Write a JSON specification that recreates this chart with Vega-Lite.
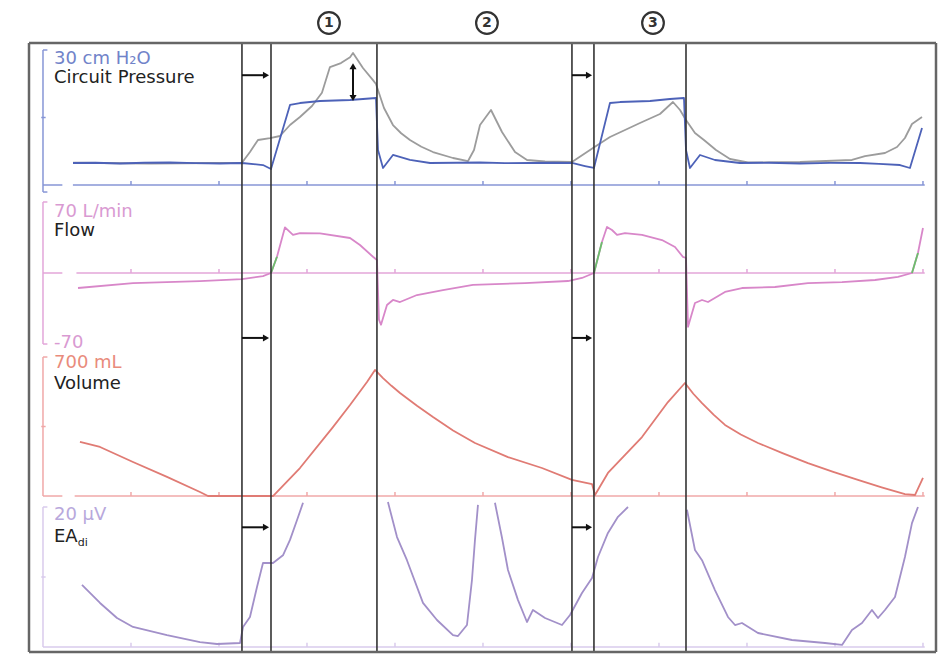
{
  "$schema": "https://vega.github.io/schema/vega-lite/v6.json",
  "padding": {"left": 27, "top": 5, "right": 16, "bottom": 18},
  "spacing": 0,
  "bounds": "flush",
  "config": {"view": {"stroke": null}, "line": {"strokeJoin": "round"}},
  "resolve": {"scale": {"x": "independent", "y": "independent", "color": "independent", "shape": "independent"}},
  "datasets": {
    "events": [{"t": 2.261}, {"t": 2.591}, {"t": 3.795}, {"t": 6.011}, {"t": 6.261}, {"t": 7.307}],
    "frame": [{"t": -0.159}, {"t": 10.148}],
    "secs": [{"t": 1}, {"t": 2}, {"t": 3}, {"t": 4}, {"t": 5}, {"t": 6}, {"t": 7}, {"t": 8}, {"t": 9}, {"t": 10}],
    "pc": [{"t":0.341,"v":4.89},{"t":0.6,"v":4.95},{"t":0.875,"v":4.78},{"t":1.15,"v":4.95},{"t":1.443,"v":5.0},{"t":1.73,"v":4.85},{"t":2.011,"v":4.78},{"t":2.261,"v":4.89},{"t":2.5,"v":4.44},{"t":2.591,"v":3.56},{"t":2.807,"v":17.78},{"t":2.92,"v":18.22},{"t":3.148,"v":18.67},{"t":3.489,"v":18.89},{"t":3.784,"v":19.33},{"t":3.807,"v":7.78},{"t":3.864,"v":3.78},{"t":3.977,"v":6.67},{"t":4.17,"v":5.56},{"t":4.398,"v":4.89},{"t":4.7,"v":4.95},{"t":4.966,"v":5.0},{"t":5.25,"v":4.85},{"t":5.534,"v":4.89},{"t":5.8,"v":4.95},{"t":6.011,"v":4.89},{"t":6.159,"v":4.22},{"t":6.261,"v":3.78},{"t":6.443,"v":18.22},{"t":6.557,"v":18.44},{"t":6.898,"v":18.67},{"t":7.125,"v":19.11},{"t":7.284,"v":19.33},{"t":7.307,"v":7.78},{"t":7.352,"v":3.78},{"t":7.466,"v":6.67},{"t":7.636,"v":5.56},{"t":7.92,"v":4.89},{"t":8.25,"v":4.95},{"t":8.602,"v":4.78},{"t":8.95,"v":4.9},{"t":9.284,"v":4.89},{"t":9.5,"v":4.7},{"t":9.739,"v":4.44},{"t":9.852,"v":3.78},{"t":9.989,"v":12.67}],
    "pg": [{"t":0.341,"v":4.95},{"t":1.216,"v":4.78},{"t":2.261,"v":4.95},{"t":2.352,"v":7.33},{"t":2.443,"v":10.0},{"t":2.58,"v":10.44},{"t":2.693,"v":10.89},{"t":2.807,"v":13.33},{"t":2.92,"v":15.11},{"t":3.057,"v":17.56},{"t":3.17,"v":20.5},{"t":3.261,"v":26.2},{"t":3.386,"v":27.1},{"t":3.489,"v":28.4},{"t":3.523,"v":29.33},{"t":3.636,"v":26.0},{"t":3.75,"v":23.3},{"t":3.784,"v":22.44},{"t":3.875,"v":17.11},{"t":3.977,"v":13.33},{"t":4.07,"v":11.5},{"t":4.17,"v":10.0},{"t":4.3,"v":8.5},{"t":4.432,"v":7.33},{"t":4.659,"v":6.0},{"t":4.83,"v":5.33},{"t":4.898,"v":7.78},{"t":4.966,"v":13.33},{"t":5.091,"v":16.67},{"t":5.216,"v":11.78},{"t":5.364,"v":7.33},{"t":5.5,"v":5.56},{"t":5.705,"v":5.22},{"t":6.011,"v":5.11},{"t":6.25,"v":8.22},{"t":6.443,"v":10.67},{"t":6.614,"v":12.22},{"t":6.784,"v":13.78},{"t":7.011,"v":15.78},{"t":7.159,"v":18.44},{"t":7.239,"v":16.67},{"t":7.307,"v":14.44},{"t":7.409,"v":11.56},{"t":7.511,"v":10.0},{"t":7.648,"v":7.78},{"t":7.807,"v":5.78},{"t":8.011,"v":5.0},{"t":8.602,"v":5.11},{"t":9.193,"v":5.56},{"t":9.341,"v":6.44},{"t":9.568,"v":7.11},{"t":9.705,"v":8.44},{"t":9.795,"v":10.44},{"t":9.875,"v":13.56},{"t":9.989,"v":15.11}],
    "flow": [{"t":0.398,"v":-14.8},{"t":1.023,"v":-10},{"t":1.784,"v":-8},{"t":2.261,"v":-6},{"t":2.5,"v":-3},{"t":2.591,"v":0},{"t":2.659,"v":16},{"t":2.75,"v":45},{"t":2.841,"v":37.5},{"t":2.92,"v":39.4},{"t":3.148,"v":39},{"t":3.489,"v":34.5},{"t":3.602,"v":27.6},{"t":3.75,"v":16},{"t":3.795,"v":12.8},{"t":3.818,"v":-46},{"t":3.841,"v":-51},{"t":3.909,"v":-31.5},{"t":3.977,"v":-26.6},{"t":4.057,"v":-28.6},{"t":4.25,"v":-21.7},{"t":4.545,"v":-16.8},{"t":4.886,"v":-11.8},{"t":5.477,"v":-9.9},{"t":5.966,"v":-7.9},{"t":6.125,"v":-4.9},{"t":6.261,"v":0},{"t":6.352,"v":30.6},{"t":6.409,"v":45.4},{"t":6.466,"v":42.4},{"t":6.523,"v":37.5},{"t":6.614,"v":39.4},{"t":6.807,"v":37.5},{"t":7.034,"v":32.5},{"t":7.182,"v":25.6},{"t":7.273,"v":15.8},{"t":7.307,"v":14.8},{"t":7.33,"v":-53},{"t":7.409,"v":-29.6},{"t":7.489,"v":-26.6},{"t":7.557,"v":-28.6},{"t":7.75,"v":-18.7},{"t":7.943,"v":-14.8},{"t":8.318,"v":-13.8},{"t":8.693,"v":-9.9},{"t":9.08,"v":-8.9},{"t":9.455,"v":-6.9},{"t":9.716,"v":-3.9},{"t":9.875,"v":0},{"t":9.943,"v":19.7},{"t":10.0,"v":44.4}],
    "flowg": [{"t":2.591,"v":0,"seg":1},{"t":2.659,"v":16,"seg":1},{"t":6.261,"v":0,"seg":2},{"t":6.352,"v":30.6,"seg":2},{"t":9.875,"v":0,"seg":3},{"t":9.943,"v":19.7,"seg":3}],
    "vol": [{"t":0.42,"v":272},{"t":0.648,"v":247},{"t":1.023,"v":171},{"t":1.409,"v":96},{"t":1.784,"v":20},{"t":1.875,"v":0},{"t":2.239,"v":0},{"t":2.614,"v":0},{"t":2.92,"v":141},{"t":3.295,"v":347},{"t":3.489,"v":458},{"t":3.682,"v":574},{"t":3.773,"v":635},{"t":3.864,"v":594},{"t":3.96,"v":555},{"t":4.057,"v":519},{"t":4.25,"v":455},{"t":4.432,"v":398},{"t":4.66,"v":330},{"t":4.909,"v":267},{"t":5.284,"v":196},{"t":5.67,"v":141},{"t":6.011,"v":81},{"t":6.239,"v":60},{"t":6.273,"v":5},{"t":6.42,"v":116},{"t":6.807,"v":297},{"t":7.102,"v":473},{"t":7.295,"v":569},{"t":7.39,"v":515},{"t":7.489,"v":468},{"t":7.62,"v":410},{"t":7.75,"v":358},{"t":7.93,"v":310},{"t":8.125,"v":267},{"t":8.41,"v":215},{"t":8.693,"v":166},{"t":8.98,"v":122},{"t":9.261,"v":81},{"t":9.53,"v":44},{"t":9.795,"v":10},{"t":9.909,"v":5},{"t":10.0,"v":91}],
    "eadi": [{"t":0.443,"v":8.86,"seg":"a"},{"t":0.648,"v":6.29,"seg":"a"},{"t":0.841,"v":4.14,"seg":"a"},{"t":1.023,"v":2.86,"seg":"a"},{"t":1.409,"v":1.71,"seg":"a"},{"t":1.784,"v":0.71,"seg":"a"},{"t":1.977,"v":0.43,"seg":"a"},{"t":2.239,"v":0.57,"seg":"a"},{"t":2.273,"v":2.86,"seg":"a"},{"t":2.352,"v":4.29,"seg":"a"},{"t":2.432,"v":8.57,"seg":"a"},{"t":2.5,"v":12.0,"seg":"a"},{"t":2.614,"v":12.0,"seg":"a"},{"t":2.727,"v":13.1,"seg":"a"},{"t":2.807,"v":15.3,"seg":"a"},{"t":2.886,"v":18.1,"seg":"a"},{"t":2.955,"v":20.6,"seg":"a"},
      {"t":3.92,"v":20.7,"seg":"b"},{"t":4.023,"v":15.7,"seg":"b"},{"t":4.136,"v":12.4,"seg":"b"},{"t":4.318,"v":6.3,"seg":"b"},{"t":4.477,"v":3.86,"seg":"b"},{"t":4.659,"v":1.7,"seg":"b"},{"t":4.716,"v":1.57,"seg":"b"},{"t":4.818,"v":3.14,"seg":"b"},{"t":4.875,"v":9.6,"seg":"b"},{"t":4.909,"v":15.3,"seg":"b"},{"t":4.943,"v":20.3,"seg":"b"},
      {"t":5.136,"v":20.6,"seg":"c"},{"t":5.216,"v":15.6,"seg":"c"},{"t":5.284,"v":11.0,"seg":"c"},{"t":5.398,"v":6.7,"seg":"c"},{"t":5.5,"v":3.57,"seg":"c"},{"t":5.568,"v":5.29,"seg":"c"},{"t":5.705,"v":4.14,"seg":"c"},{"t":5.898,"v":3.14,"seg":"c"},{"t":5.989,"v":4.57,"seg":"c"},{"t":6.125,"v":7.71,"seg":"c"},{"t":6.239,"v":9.86,"seg":"c"},{"t":6.307,"v":12.86,"seg":"c"},{"t":6.42,"v":16.3,"seg":"c"},{"t":6.534,"v":18.6,"seg":"c"},{"t":6.648,"v":20.0,"seg":"c"},
      {"t":7.318,"v":19.6,"seg":"d"},{"t":7.409,"v":13.86,"seg":"d"},{"t":7.489,"v":12.4,"seg":"d"},{"t":7.636,"v":8.14,"seg":"d"},{"t":7.784,"v":4.29,"seg":"d"},{"t":7.864,"v":3.14,"seg":"d"},{"t":7.943,"v":3.43,"seg":"d"},{"t":8.125,"v":2.0,"seg":"d"},{"t":8.511,"v":1.0,"seg":"d"},{"t":8.886,"v":0.57,"seg":"d"},{"t":9.08,"v":0.29,"seg":"d"},{"t":9.193,"v":2.43,"seg":"d"},{"t":9.307,"v":3.43,"seg":"d"},{"t":9.42,"v":5.29,"seg":"d"},{"t":9.489,"v":4.14,"seg":"d"},{"t":9.568,"v":5.29,"seg":"d"},{"t":9.682,"v":7.14,"seg":"d"},{"t":9.795,"v":12.86,"seg":"d"},{"t":9.875,"v":17.7,"seg":"d"},{"t":9.943,"v":20.0,"seg":"d"}],
    "gP": [{"t":0,"t2":0,"v":-1.56,"v2":30},{"t":0,"t2":0.05,"v":30,"v2":30},{"t":0,"t2":0.05,"v":-1.56,"v2":-1.56},{"t":-0.02,"t2":0.03,"v":15,"v2":15},{"t":0,"t2":0.22,"v":0,"v2":0},{"t":0.34,"t2":10.02,"v":0,"v2":0}],
    "gF": [{"t":0,"t2":0,"v":-70,"v2":70},{"t":0,"t2":0.05,"v":70,"v2":70},{"t":0,"t2":0.05,"v":-70,"v2":-70},{"t":0,"t2":0.22,"v":0,"v2":0},{"t":0.38,"t2":10.02,"v":0,"v2":0}],
    "gV": [{"t":0,"t2":0,"v":0,"v2":700},{"t":0,"t2":0.05,"v":700,"v2":700},{"t":-0.02,"t2":0.03,"v":350,"v2":350},{"t":0,"t2":0.22,"v":0,"v2":0},{"t":0.36,"t2":10.02,"v":0,"v2":0}],
    "gE": [{"t":0,"t2":0,"v":0,"v2":20},{"t":0,"t2":0.05,"v":20,"v2":20},{"t":-0.02,"t2":0.03,"v":10,"v2":10},{"t":0,"t2":10.02,"v":0,"v2":0}],
    "lP": [{"t":0.125,"v":26.9,"label":"30 cm H₂O","k":"unit"},{"t":0.125,"v":22.67,"label":"Circuit Pressure","k":"name"}],
    "lF": [{"t":0.125,"v":55.2,"label":"70 L/min","k":"unit"},{"t":0.125,"v":36.5,"label":"Flow","k":"name"},{"t":0.125,"v":-73.9,"label":"-70","k":"unit"}],
    "lV": [{"t":0.125,"v":644.6,"label":"700 mL","k":"unit"},{"t":0.125,"v":538.9,"label":"Volume","k":"name"}],
    "lE": [{"t":0.125,"v":18.14,"label":"20 µV","k":"unit"},{"t":0.125,"v":15.0,"label":"EA","k":"name"}],
    "circ": [{"t":3.25,"n":"1"},{"t":5.045,"n":"2"},{"t":6.932,"n":"3"}]
  },
  "vconcat": [
    {
      "width": 907, "height": 38,
      "data": {"name": "circ"},
      "encoding": {
        "x": {"field": "t", "type": "quantitative", "scale": {"domain": [-0.159, 10.148], "nice": false, "zero": false}, "axis": null},
        "y": {"datum": 0.526, "type": "quantitative", "scale": {"domain": [0, 1], "nice": false, "zero": false}, "axis": null}
      },
      "layer": [
        {"mark": {"type": "point", "shape": "circle", "size": 470, "stroke": "#333", "strokeWidth": 2.2, "filled": false, "opacity": 1}},
        {"mark": {"type": "text", "font": "DejaVu Sans", "fontSize": 14, "fontWeight": "bold", "color": "#333", "baseline": "middle", "align": "center"}, "encoding": {"text": {"field": "n"}}}
      ]
    },
    {
      "width": 907, "height": 153,
      "encoding": {"x": {"field": "t", "type": "quantitative", "scale": {"domain": [-0.159, 10.148], "nice": false, "zero": false}, "axis": null}},
      "layer": [
        {"data": {"name": "gP"}, "mark": {"type": "rule", "color": "#8796d6", "strokeWidth": 1.5},
         "encoding": {"x2": {"field": "t2"}, "y": {"field": "v", "type": "quantitative", "scale": {"domain": [-2.444, 31.556], "nice": false, "zero": false}, "axis": null}, "y2": {"field": "v2"}}},
        {"data": {"name": "secs"}, "mark": {"type": "rule", "color": "#8796d6", "strokeWidth": 1.5},
         "encoding": {"y": {"datum": 0, "type": "quantitative", "scale": {"domain": [-2.444, 31.556], "nice": false, "zero": false}, "axis": null}, "y2": {"datum": 0.9}}},
        {"data": {"name": "pg"}, "mark": {"type": "line", "color": "#9c9c9c", "strokeWidth": 1.8},
         "encoding": {"y": {"field": "v", "type": "quantitative", "scale": {"domain": [-2.444, 31.556], "nice": false, "zero": false}, "axis": null}}},
        {"data": {"name": "pc"}, "mark": {"type": "line", "color": "#4d62b8", "strokeWidth": 1.8},
         "encoding": {"y": {"field": "v", "type": "quantitative", "scale": {"domain": [-2.444, 31.556], "nice": false, "zero": false}, "axis": null}}},
        {"data": {"name": "events"}, "mark": {"type": "rule", "color": "#333", "strokeWidth": 1.6}, "encoding": {}},
        {"data": {"name": "frame"}, "mark": {"type": "rule", "color": "#666", "strokeWidth": 2.5}, "encoding": {}},
        {"data": {"values": [{"t": -0.159, "t2": 10.148}]}, "mark": {"type": "rule", "color": "#666", "strokeWidth": 2.5},
         "encoding": {"x2": {"field": "t2"}, "y": {"datum": 31.556, "type": "quantitative", "scale": {"domain": [-2.444, 31.556], "nice": false, "zero": false}, "axis": null}}},
        {"data": {"values": [{"t": 2.261, "t2": 2.534, "v": 24.4}, {"t": 6.011, "t2": 6.205, "v": 24.4}]}, "mark": {"type": "rule", "color": "#111", "strokeWidth": 2},
         "encoding": {"x2": {"field": "t2"}, "y": {"field": "v", "type": "quantitative", "scale": {"domain": [-2.444, 31.556], "nice": false, "zero": false}, "axis": null}}},
        {"data": {"values": [{"t": 2.534, "v": 24.4}, {"t": 6.205, "v": 24.4}]}, "mark": {"type": "point", "shape": "triangle-right", "filled": true, "color": "#111", "size": 50, "opacity": 1},
         "encoding": {"y": {"field": "v", "type": "quantitative", "scale": {"domain": [-2.444, 31.556], "nice": false, "zero": false}, "axis": null}}},
        {"data": {"values": [{"t": 3.523, "v": 19.33, "v2": 26.4}]}, "mark": {"type": "rule", "color": "#111", "strokeWidth": 2},
         "encoding": {"y": {"field": "v", "type": "quantitative", "scale": {"domain": [-2.444, 31.556], "nice": false, "zero": false}, "axis": null}, "y2": {"field": "v2"}}},
        {"data": {"values": [{"t": 3.523, "v": 26.4, "d": "up"}, {"t": 3.523, "v": 19.33, "d": "down"}]}, "mark": {"type": "point", "filled": true, "color": "#111", "size": 50, "opacity": 1},
         "encoding": {"y": {"field": "v", "type": "quantitative", "scale": {"domain": [-2.444, 31.556], "nice": false, "zero": false}, "axis": null},
                      "shape": {"field": "d", "type": "nominal", "scale": {"domain": ["up", "down"], "range": ["triangle-up", "triangle-down"]}, "legend": null}}},
        {"data": {"name": "lP"}, "mark": {"type": "text", "align": "left", "baseline": "alphabetic", "font": "DejaVu Sans", "fontSize": 18},
         "encoding": {"y": {"field": "v", "type": "quantitative", "scale": {"domain": [-2.444, 31.556], "nice": false, "zero": false}, "axis": null},
                      "text": {"field": "label"},
                      "color": {"field": "k", "type": "nominal", "scale": {"domain": ["unit", "name"], "range": ["#7183c9", "#222222"]}, "legend": null}}}
      ]
    },
    {
      "width": 907, "height": 154,
      "encoding": {"x": {"field": "t", "type": "quantitative", "scale": {"domain": [-0.159, 10.148], "nice": false, "zero": false}, "axis": null}},
      "layer": [
        {"data": {"name": "gF"}, "mark": {"type": "rule", "color": "#e3a6d9", "strokeWidth": 1.5},
         "encoding": {"x2": {"field": "t2"}, "y": {"field": "v", "type": "quantitative", "scale": {"domain": [-75.9, 75.9], "nice": false, "zero": false}, "axis": null}, "y2": {"field": "v2"}}},
        {"data": {"name": "secs"}, "mark": {"type": "rule", "color": "#e3a6d9", "strokeWidth": 1.5},
         "encoding": {"y": {"datum": 0, "type": "quantitative", "scale": {"domain": [-75.9, 75.9], "nice": false, "zero": false}, "axis": null}, "y2": {"datum": 4}}},
        {"data": {"name": "flow"}, "mark": {"type": "line", "color": "#d887c9", "strokeWidth": 1.8},
         "encoding": {"y": {"field": "v", "type": "quantitative", "scale": {"domain": [-75.9, 75.9], "nice": false, "zero": false}, "axis": null}}},
        {"data": {"name": "flowg"}, "mark": {"type": "line", "color": "#6cbf6c", "strokeWidth": 1.8},
         "encoding": {"y": {"field": "v", "type": "quantitative", "scale": {"domain": [-75.9, 75.9], "nice": false, "zero": false}, "axis": null}, "detail": {"field": "seg"}}},
        {"data": {"name": "events"}, "mark": {"type": "rule", "color": "#333", "strokeWidth": 1.6}, "encoding": {}},
        {"data": {"name": "frame"}, "mark": {"type": "rule", "color": "#666", "strokeWidth": 2.5}, "encoding": {}},
        {"data": {"values": [{"t": 2.261, "t2": 2.534, "v": -64}, {"t": 6.011, "t2": 6.205, "v": -64}]}, "mark": {"type": "rule", "color": "#111", "strokeWidth": 2},
         "encoding": {"x2": {"field": "t2"}, "y": {"field": "v", "type": "quantitative", "scale": {"domain": [-75.9, 75.9], "nice": false, "zero": false}, "axis": null}}},
        {"data": {"values": [{"t": 2.534, "v": -64}, {"t": 6.205, "v": -64}]}, "mark": {"type": "point", "shape": "triangle-right", "filled": true, "color": "#111", "size": 50, "opacity": 1},
         "encoding": {"y": {"field": "v", "type": "quantitative", "scale": {"domain": [-75.9, 75.9], "nice": false, "zero": false}, "axis": null}}},
        {"data": {"name": "lF"}, "mark": {"type": "text", "align": "left", "baseline": "alphabetic", "font": "DejaVu Sans", "fontSize": 18},
         "encoding": {"y": {"field": "v", "type": "quantitative", "scale": {"domain": [-75.9, 75.9], "nice": false, "zero": false}, "axis": null},
                      "text": {"field": "label"},
                      "color": {"field": "k", "type": "nominal", "scale": {"domain": ["unit", "name"], "range": ["#d99ad2", "#222222"]}, "legend": null}}}
      ]
    },
    {
      "width": 907, "height": 150,
      "encoding": {"x": {"field": "t", "type": "quantitative", "scale": {"domain": [-0.159, 10.148], "nice": false, "zero": false}, "axis": null}},
      "layer": [
        {"data": {"name": "gV"}, "mark": {"type": "rule", "color": "#f0a8a8", "strokeWidth": 1.5},
         "encoding": {"x2": {"field": "t2"}, "y": {"field": "v", "type": "quantitative", "scale": {"domain": [-20.1, 735.3], "nice": false, "zero": false}, "axis": null}, "y2": {"field": "v2"}}},
        {"data": {"name": "secs"}, "mark": {"type": "rule", "color": "#f0a8a8", "strokeWidth": 1.5},
         "encoding": {"y": {"datum": 0, "type": "quantitative", "scale": {"domain": [-20.1, 735.3], "nice": false, "zero": false}, "axis": null}, "y2": {"datum": 20}}},
        {"data": {"name": "vol"}, "mark": {"type": "line", "color": "#e07b74", "strokeWidth": 1.8},
         "encoding": {"y": {"field": "v", "type": "quantitative", "scale": {"domain": [-20.1, 735.3], "nice": false, "zero": false}, "axis": null}}},
        {"data": {"name": "events"}, "mark": {"type": "rule", "color": "#333", "strokeWidth": 1.6}, "encoding": {}},
        {"data": {"name": "frame"}, "mark": {"type": "rule", "color": "#666", "strokeWidth": 2.5}, "encoding": {}},
        {"data": {"name": "lV"}, "mark": {"type": "text", "align": "left", "baseline": "alphabetic", "font": "DejaVu Sans", "fontSize": 18},
         "encoding": {"y": {"field": "v", "type": "quantitative", "scale": {"domain": [-20.1, 735.3], "nice": false, "zero": false}, "axis": null},
                      "text": {"field": "label"},
                      "color": {"field": "k", "type": "nominal", "scale": {"domain": ["unit", "name"], "range": ["#e98b7c", "#222222"]}, "legend": null}}}
      ]
    },
    {
      "width": 907, "height": 152,
      "encoding": {"x": {"field": "t", "type": "quantitative", "scale": {"domain": [-0.159, 10.148], "nice": false, "zero": false}, "axis": null}},
      "layer": [
        {"data": {"name": "gE"}, "mark": {"type": "rule", "color": "#d9cbec", "strokeWidth": 1.5},
         "encoding": {"x2": {"field": "t2"}, "y": {"field": "v", "type": "quantitative", "scale": {"domain": [-0.714, 21], "nice": false, "zero": false}, "axis": null}, "y2": {"field": "v2"}}},
        {"data": {"name": "secs"}, "mark": {"type": "rule", "color": "#d9cbec", "strokeWidth": 1.5},
         "encoding": {"y": {"datum": 0, "type": "quantitative", "scale": {"domain": [-0.714, 21], "nice": false, "zero": false}, "axis": null}, "y2": {"datum": 0.6}}},
        {"data": {"name": "eadi"}, "mark": {"type": "line", "color": "#a290c9", "strokeWidth": 1.8},
         "encoding": {"y": {"field": "v", "type": "quantitative", "scale": {"domain": [-0.714, 21], "nice": false, "zero": false}, "axis": null}, "detail": {"field": "seg"}}},
        {"data": {"name": "events"}, "mark": {"type": "rule", "color": "#333", "strokeWidth": 1.6}, "encoding": {}},
        {"data": {"name": "frame"}, "mark": {"type": "rule", "color": "#666", "strokeWidth": 2.5}, "encoding": {}},
        {"data": {"values": [{"t": -0.159, "t2": 10.148}]}, "mark": {"type": "rule", "color": "#666", "strokeWidth": 2.5},
         "encoding": {"x2": {"field": "t2"}, "y": {"datum": -0.714, "type": "quantitative", "scale": {"domain": [-0.714, 21], "nice": false, "zero": false}, "axis": null}}},
        {"data": {"values": [{"t": 2.261, "t2": 2.534, "v": 17.1}, {"t": 6.011, "t2": 6.205, "v": 17.1}]}, "mark": {"type": "rule", "color": "#111", "strokeWidth": 2},
         "encoding": {"x2": {"field": "t2"}, "y": {"field": "v", "type": "quantitative", "scale": {"domain": [-0.714, 21], "nice": false, "zero": false}, "axis": null}}},
        {"data": {"values": [{"t": 2.534, "v": 17.1}, {"t": 6.205, "v": 17.1}]}, "mark": {"type": "point", "shape": "triangle-right", "filled": true, "color": "#111", "size": 50, "opacity": 1},
         "encoding": {"y": {"field": "v", "type": "quantitative", "scale": {"domain": [-0.714, 21], "nice": false, "zero": false}, "axis": null}}},
        {"data": {"name": "lE"}, "mark": {"type": "text", "align": "left", "baseline": "alphabetic", "font": "DejaVu Sans", "fontSize": 18},
         "encoding": {"y": {"field": "v", "type": "quantitative", "scale": {"domain": [-0.714, 21], "nice": false, "zero": false}, "axis": null},
                      "text": {"field": "label"},
                      "color": {"field": "k", "type": "nominal", "scale": {"domain": ["unit", "name"], "range": ["#b8a8dc", "#222222"]}, "legend": null}}},
        {"data": {"values": [{"t": 0.395, "v": 14.43, "label": "di"}]}, "mark": {"type": "text", "align": "left", "baseline": "alphabetic", "font": "DejaVu Sans", "fontSize": 11, "color": "#222222"},
         "encoding": {"y": {"field": "v", "type": "quantitative", "scale": {"domain": [-0.714, 21], "nice": false, "zero": false}, "axis": null},
                      "text": {"field": "label"}}}
      ]
    }
  ]
}
